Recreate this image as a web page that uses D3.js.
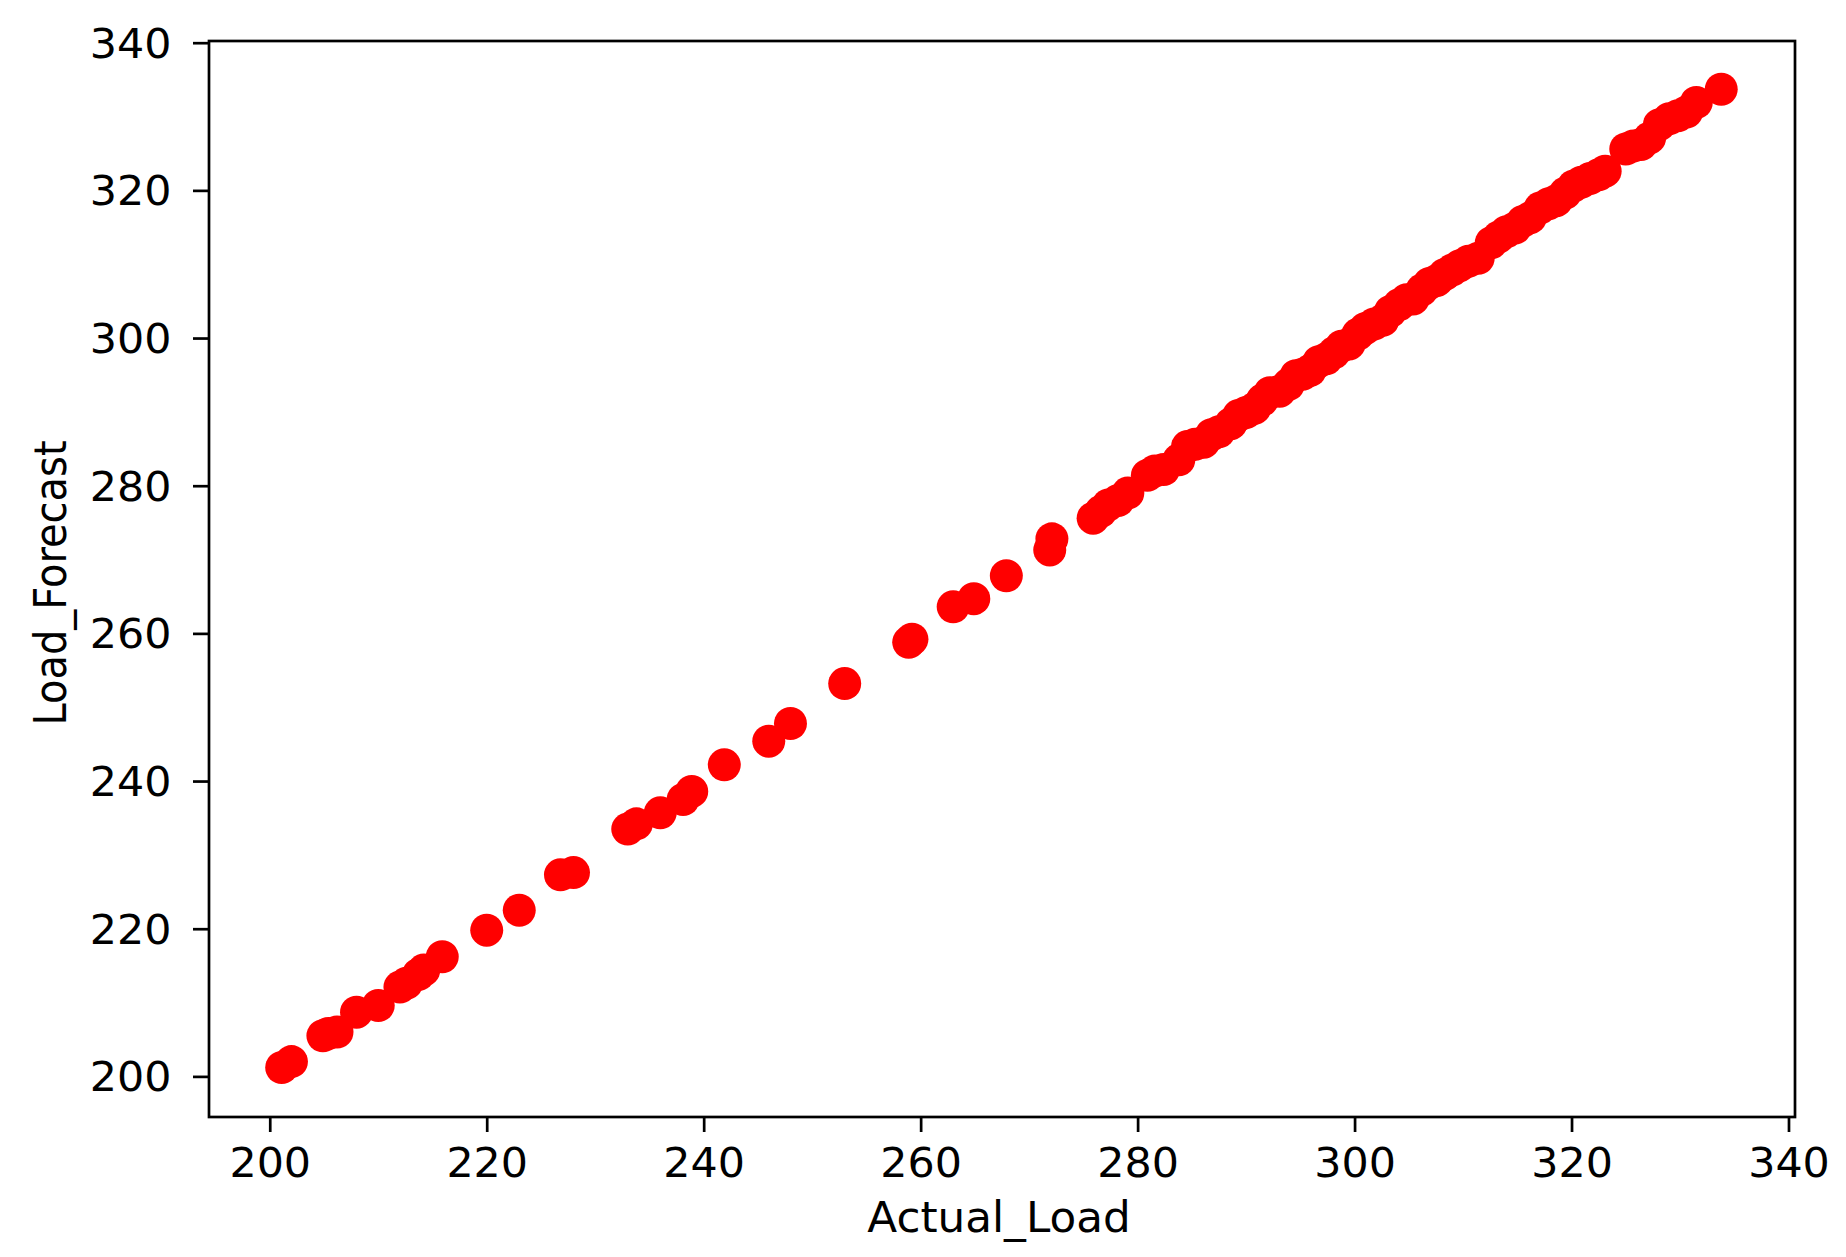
<!DOCTYPE html>
<html>
<head>
<meta charset="utf-8">
<script src="https://cdn.jsdelivr.net/npm/d3@7"></script>
<style>
  html, body { margin: 0; padding: 0; background: #fff; }
  svg { display: block; }
  text { font-family: "DejaVu Sans", sans-serif; fill: #000; }
</style>
</head>
<body>
<svg id="chart" width="1846" height="1257"></svg>
<script>
// ---- data ----
const actualLoad = [
  201.1, 202.0, 204.9, 205.4, 206.2, 208.0, 210.0, 212.0, 212.6, 213.7,
  214.2, 215.9, 220.0, 223.0, 226.8, 228.0, 233.0, 233.8, 236.0, 238.1,
  238.9, 241.9, 246.0, 248.0, 253.0, 258.9, 259.2, 263.0, 264.9, 267.9,
  271.9, 272.1, 275.9, 276.6, 277.3, 278.2, 279.1, 280.9, 281.6, 282.4,
  283.8, 284.6, 285.3, 286.1, 286.8, 287.5, 288.6, 289.3, 290.0, 290.8,
  291.5, 292.2, 293.1, 293.9, 294.6, 295.2, 295.9, 296.7, 297.4, 298.1,
  298.8, 299.5, 300.3, 301.0, 301.8, 302.6, 303.3, 304.1, 304.8, 305.4,
  306.2, 306.9, 307.6, 308.3, 309.0, 309.7, 310.5, 311.4, 312.6, 313.3,
  314.0, 314.8, 315.5, 316.2, 317.1, 317.9, 318.6, 319.4, 320.2, 320.9,
  321.7, 322.5, 323.1, 325.0, 325.7, 326.4, 327.2, 328.1, 329.0, 329.8,
  330.6, 331.5, 333.8
];
const loadForecast = [
  201.2, 202.0, 205.5, 205.8, 206.0, 208.7, 209.6, 212.1, 212.6, 213.8,
  214.4, 216.2, 219.8, 222.5, 227.3, 227.6, 233.5, 234.2, 235.7, 237.5,
  238.6, 242.2, 245.4, 247.8, 253.2, 258.8, 259.2, 263.6, 264.7, 267.8,
  271.3, 272.8, 275.6, 276.5, 277.4, 278.0, 279.0, 281.4, 282.0, 282.2,
  283.5, 285.3, 285.6, 285.9, 286.9, 287.3, 288.4, 289.5, 289.9, 290.5,
  291.6, 292.6, 292.8, 293.7, 294.9, 295.1, 295.6, 296.8, 297.2, 298.0,
  298.9, 299.2, 300.5, 301.3, 301.9, 302.4, 303.6, 304.5, 305.2, 305.3,
  306.5, 307.4, 307.8, 308.6, 309.2, 309.8, 310.4, 310.8, 312.9, 313.7,
  314.4, 314.9, 315.8, 316.3, 317.6, 318.2, 318.6, 319.6, 320.6, 321.1,
  321.6, 322.1, 322.6, 325.6, 326.0, 326.2, 327.1, 328.9, 329.7, 330.1,
  330.6, 331.9, 333.7
];
const xTicks = [200, 220, 240, 260, 280, 300, 320, 340];
const yTicks = [200, 220, 240, 260, 280, 300, 320, 340];
const xLabel = "Actual_Load";
const yLabel = "Load_Forecast";

// ---- layout ----
const plot = { left: 209, right: 1795, top: 41, bottom: 1117 };
const svg = d3.select("#chart");

const x = d3.scaleLinear().domain([194.4, 340.6]).range([plot.left, plot.right]);
const y = d3.scaleLinear().domain([194.5, 340.23]).range([plot.bottom, plot.top]);

const points = actualLoad.map((a, i) => ({ a, f: loadForecast[i] }));

// points
svg.append("g")
  .selectAll("circle")
  .data(points)
  .join("circle")
  .attr("cx", d => x(d.a))
  .attr("cy", d => y(d.f))
  .attr("r", 16.5)
  .attr("fill", "#ff0000");

// axes
const tickFont = 40;
const stretch = 1.07;
const xAxis = d3.axisBottom(x).tickValues(xTicks).tickSize(15).tickPadding(17).tickFormat(d3.format("d"));
const yAxis = d3.axisLeft(y).tickValues(yTicks).tickSize(16).tickPadding(18).tickFormat(d3.format("d"));

const gx = svg.append("g").attr("transform", `translate(0,${plot.bottom})`).call(xAxis);
const gy = svg.append("g").attr("transform", `translate(${plot.left},0)`).call(yAxis);

[gx, gy].forEach(g => {
  g.select(".domain").remove();
  g.selectAll(".tick line").attr("stroke", "#000").attr("stroke-width", 2.7);
  g.selectAll(".tick text")
    .attr("fill", "#000")
    .style("font-family", "'DejaVu Sans', sans-serif")
    .style("font-size", tickFont + "px");
});
gx.selectAll(".tick text").attr("dy", "0.71em").attr("transform", `scale(${stretch},1)`);
gy.selectAll(".tick text").attr("dy", "0.36em")
  .attr("x", -37.5 / stretch)
  .attr("transform", `scale(${stretch},1)`);

// frame
svg.append("rect")
  .attr("x", plot.left).attr("y", plot.top)
  .attr("width", plot.right - plot.left).attr("height", plot.bottom - plot.top)
  .attr("fill", "none").attr("stroke", "#000").attr("stroke-width", 2.7);

// axis labels
svg.append("text")
  .attr("transform", `translate(${(plot.left + plot.right) / 2 - 3},1232) scale(1.04,1)`)
  .attr("text-anchor", "middle")
  .style("font-size", "42px")
  .text(xLabel);

svg.append("text")
  .attr("transform", `translate(66,${(plot.top + plot.bottom) / 2 + 4}) rotate(-90) scale(1,1.09)`)
  .attr("text-anchor", "middle")
  .style("font-size", "40px")
  .text(yLabel);
</script>
</body>
</html>
